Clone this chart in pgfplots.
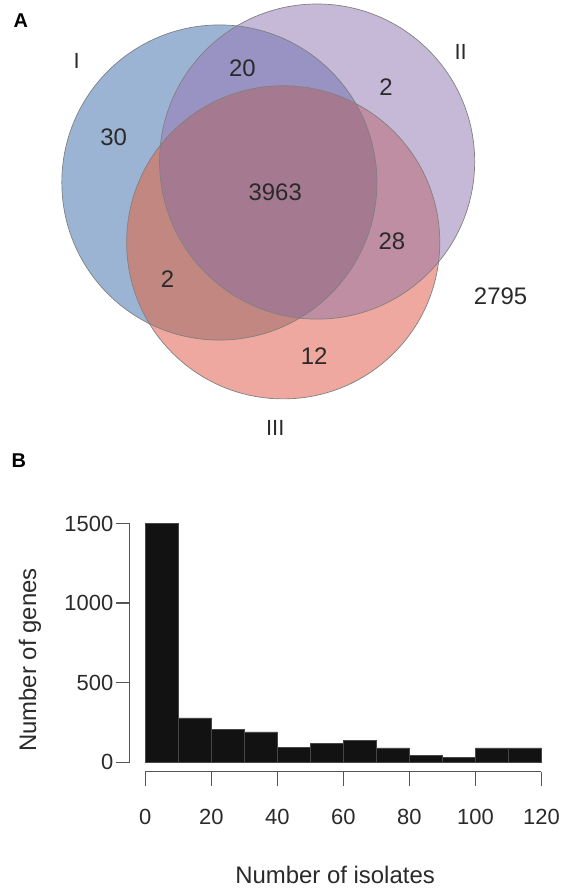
\documentclass[border=0pt]{standalone}
\usepackage{pgfplots}
\pgfplotsset{compat=1.18}
\usepackage{fontspec}
\setmainfont{Liberation Sans}
\definecolor{cI}{HTML}{9CB4D4}
\definecolor{cII}{HTML}{C6B9D8}
\definecolor{cIII}{HTML}{EEA89F}
\definecolor{cIandII}{HTML}{9893C3}
\definecolor{cIandIII}{HTML}{C28781}
\definecolor{cIIandIII}{HTML}{BF8EA2}
\definecolor{cAll}{HTML}{A57A91}
\definecolor{txt}{HTML}{2A2A2A}
\definecolor{axgray}{HTML}{555555}
\begin{document}
\begin{tikzpicture}
% ---------- Panel A (Venn), pixel coordinate frame ----------
\begin{axis}[name=frame, at={(0pt,0pt)}, anchor=south west, scale only axis,
  width=283pt, height=445pt, xmin=0, xmax=566, ymin=0, ymax=890,
  y dir=reverse, axis lines=none, clip=false]
\path (axis cs:0,0) rectangle (axis cs:566,890);
% single circles
\fill[cI]   (axis cs:220,183) circle[radius=79pt];
\fill[cII]  (axis cs:318,162) circle[radius=79pt];
\fill[cIII] (axis cs:284,243) circle[radius=78.5pt];
% pairwise
\begin{scope}
  \clip (axis cs:220,183) circle[radius=79pt];
  \fill[cIandII] (axis cs:318,162) circle[radius=79pt];
\end{scope}
\begin{scope}
  \clip (axis cs:220,183) circle[radius=79pt];
  \fill[cIandIII] (axis cs:284,243) circle[radius=78.5pt];
\end{scope}
\begin{scope}
  \clip (axis cs:318,162) circle[radius=79pt];
  \fill[cIIandIII] (axis cs:284,243) circle[radius=78.5pt];
\end{scope}
\begin{scope}
  \clip (axis cs:220,183) circle[radius=79pt];
  \clip (axis cs:318,162) circle[radius=79pt];
  \fill[cAll] (axis cs:284,243) circle[radius=78.5pt];
\end{scope}
% outlines
\draw[black!50, line width=0.35pt] (axis cs:220,183) circle[radius=79pt];
\draw[black!50, line width=0.35pt] (axis cs:318,162) circle[radius=79pt];
\draw[black!50, line width=0.35pt] (axis cs:284,243) circle[radius=78.5pt];
% counts
\begin{scope}[every node/.style={text=txt, font=\fontsize{12}{14}\selectfont}]
\node at (axis cs:243,68)  {20};
\node at (axis cs:387,87)  {2};
\node at (axis cs:114,138) {30};
\node at (axis cs:276,193) {3963};
\node at (axis cs:393,242) {28};
\node at (axis cs:168,280) {2};
\node at (axis cs:315,357) {12};
\node at (axis cs:502,297) {2795};
\end{scope}
% set names
\begin{scope}[every node/.style={text=txt, font=\fontsize{11}{13}\selectfont}]
\node at (axis cs:77,61)   {I};
\node at (axis cs:462,52)  {II};
\node at (axis cs:276,429) {III};
\end{scope}
% panel letters
\node[font=\bfseries\fontsize{10}{12}\selectfont] at (axis cs:21,21) {A};
\node[font=\bfseries\fontsize{10}{12}\selectfont] at (axis cs:19,462) {B};
\end{axis}
% ---------- Panel B (histogram) ----------
\begin{axis}[at={(72.85pt,62.85pt)}, anchor=south west, scale only axis,
  width=198.65pt, height=119.65pt,
  xmin=0, xmax=120, ymin=0, ymax=1500,
  axis x line*=bottom, axis y line*=left,
  axis x line shift=4.85pt, axis y line shift=7.85pt,
  axis line style={axgray, line width=0.6pt},
  tick align=outside, major tick length=7pt,
  tick style={axgray, line width=0.6pt},
  xtick={0,20,40,60,80,100,120}, ytick={0,500,1000,1500},
  /pgf/number format/assume math mode=true,
  /pgf/number format/1000 sep={},
  tick label style={text=txt, font=\fontsize{11}{13}\selectfont},
  xticklabel style={yshift=-8pt},
  yticklabel style={inner sep=1pt},
  xlabel={Number of isolates}, ylabel={Number of genes},
  xlabel style={at={(axis description cs:0.479,-0.471)}, anchor=center, text=txt, font=\fontsize{12}{14}\selectfont},
  ylabel style={at={(axis description cs:-0.291,0.4275)}, anchor=center, text=txt, font=\fontsize{12}{14}\selectfont},
  clip=false]
\addplot[ybar interval, fill=black!93, draw=black!72, line width=0.3pt] coordinates {
  (0,1500) (10,278) (20,205) (30,190) (40,94) (50,119) (60,136)
  (70,90) (80,44) (90,29) (100,90) (110,90) (120,90)
};
\end{axis}
\end{tikzpicture}
\end{document}
